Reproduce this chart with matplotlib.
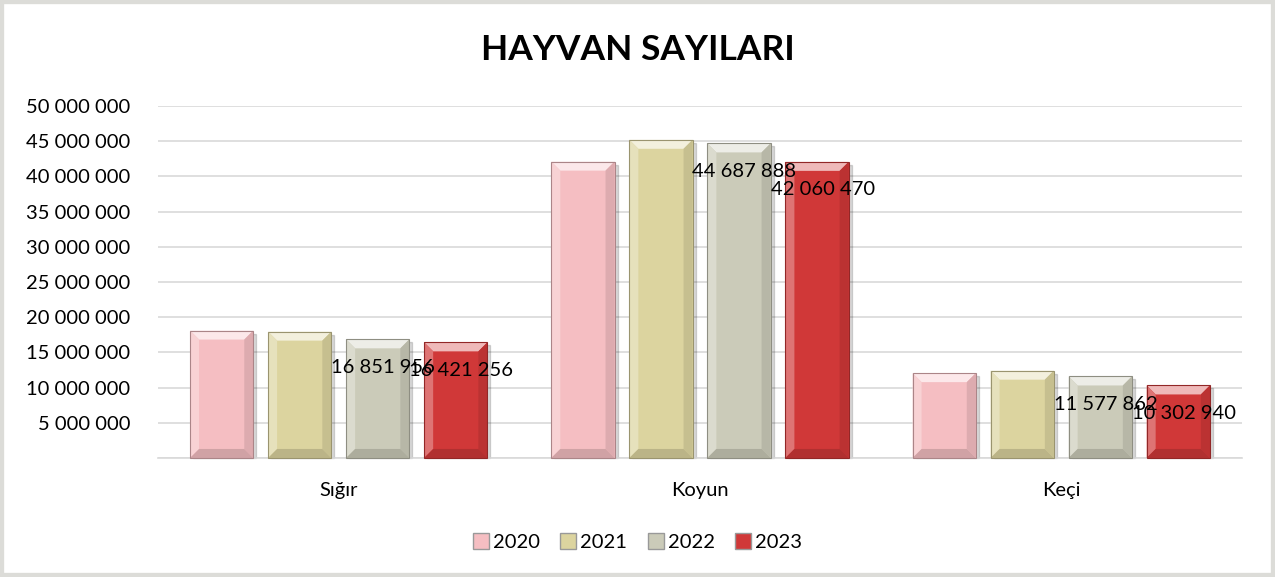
import numpy as np
import matplotlib
matplotlib.use('Agg')
import matplotlib.pyplot as plt
from matplotlib.patches import Polygon, Rectangle
from matplotlib.transforms import IdentityTransform
from matplotlib.ticker import FuncFormatter, MultipleLocator
from matplotlib.colors import to_rgb

# Data
categories = ['Sığır', 'Koyun', 'Keçi']
years = ['2020', '2021', '2022', '2023']
v2020 = [18100000, 42100000, 12050000]
v2021 = [17950000, 45200000, 12400000]
v2022 = [16851956, 44687888, 11577862]
v2023 = [16421256, 42060470, 10302940]
series = [v2020, v2021, v2022, v2023]
labelled = ['2022', '2023']

colors = ['#F5BEC2', '#DCD49F', '#CBCBB9', '#D03838']

plt.rcParams['font.family'] = ['Lato', 'DejaVu Sans']

fig = plt.figure(figsize=(12.75, 5.77), dpi=100)
fig.patch.set_facecolor('white')
fig.add_artist(Rectangle((0, 0), 1, 1, transform=fig.transFigure, fill=False,
                         edgecolor='#dcdcd8', linewidth=6))
ax = fig.add_axes([0.124, 0.2063, 0.850, 0.610])

def fmt(v):
    return f"{int(round(v)):,}".replace(',', ' ')

x = np.arange(len(categories))
width = 0.175
step = 0.216
bars_by_series = []
for i, (yr, vals) in enumerate(zip(years, series)):
    pos = x + (i - 1.5) * step
    bars = ax.bar(pos, vals, width, color=colors[i], label=yr, zorder=3,
                  edgecolor='none')
    bars_by_series.append(bars)

ax.set_xlim(-0.5, 2.5)
ax.set_ylim(0, 50000000)
ax.yaxis.set_major_locator(MultipleLocator(5000000))
ax.yaxis.set_major_formatter(FuncFormatter(lambda v, p: '' if v == 0 else fmt(v)))
ax.grid(axis='y', color='#d9d9d9', linewidth=1.2, zorder=0)
ax.set_axisbelow(True)
for s in ['top', 'right', 'left']:
    ax.spines[s].set_visible(False)
ax.spines['bottom'].set_color('#d9d9d9')
ax.spines['bottom'].set_linewidth(1.2)
ax.tick_params(axis='both', length=0, labelsize=14.5, colors='#000000')
ax.tick_params(axis='y', pad=20)
ax.tick_params(axis='x', pad=17)
ax.set_xticks(x)
ax.set_xticklabels(categories)

fig.text(0.5, 1 - 50 / 577, 'HAYVAN SAYILARI', fontsize=25.5, fontweight='bold',
         ha='center', va='center')

# bevel effect on each bar, computed from the drawn patches
def blend(c, t, amt):
    c = np.array(to_rgb(c)); t = np.array(to_rgb(t))
    return tuple(c * (1 - amt) + t * amt)

b = 9
for i, bars in enumerate(bars_by_series):
    c = colors[i]
    for p in bars:
        (x0, y0), (x1, y1) = ax.transData.transform([(p.get_x(), 0),
                                                     (p.get_x() + p.get_width(), p.get_height())])
        # drop shadow
        ax.add_patch(Rectangle((x0 + 3, y0), x1 - x0, y1 - y0 - 3,
                               transform=IdentityTransform(), color='#000000',
                               alpha=0.15, zorder=2.5, clip_on=False))
        polys = [
            ([(x0, y1), (x1, y1), (x1 - b, y1 - b), (x0 + b, y1 - b)], blend(c, 'white', 0.65)),
            ([(x0, y0), (x0, y1), (x0 + b, y1 - b), (x0 + b, y0 + b)], blend(c, 'white', 0.3)),
            ([(x1, y0), (x1, y1), (x1 - b, y1 - b), (x1 - b, y0 + b)], blend(c, 'black', 0.1)),
            ([(x0, y0), (x1, y0), (x1 - b, y0 + b), (x0 + b, y0 + b)], blend(c, 'black', 0.15)),
        ]
        for pts, col in polys:
            ax.add_patch(Polygon(pts, closed=True, transform=IdentityTransform(),
                                 facecolor=col, edgecolor='none', zorder=4, clip_on=False))
        ax.add_patch(Rectangle((x0, y0), x1 - x0, y1 - y0, transform=IdentityTransform(),
                               fill=False, edgecolor=blend(c, 'black', 0.3),
                               linewidth=0.8, zorder=4.5, clip_on=False))

# data labels for 2022 and 2023
for i, bars in enumerate(bars_by_series):
    if years[i] not in labelled:
        continue
    for p, v in zip(bars, series[i]):
        ax.annotate(fmt(v), (p.get_x() + p.get_width() / 2, v),
                    xytext=(4, -20), textcoords='offset points',
                    ha='center', va='center', fontsize=14.5, color='#000000', zorder=6)

leg = fig.legend(loc='center', bbox_to_anchor=(0.5, 0.0607), ncol=4, frameon=False,
                 fontsize=14.5, handlelength=0.8, handleheight=0.8,
                 handletextpad=0.2, columnspacing=1.0)
for h in leg.legend_handles:
    h.set_edgecolor('#999999')

fig.savefig('out.png', dpi=100)
